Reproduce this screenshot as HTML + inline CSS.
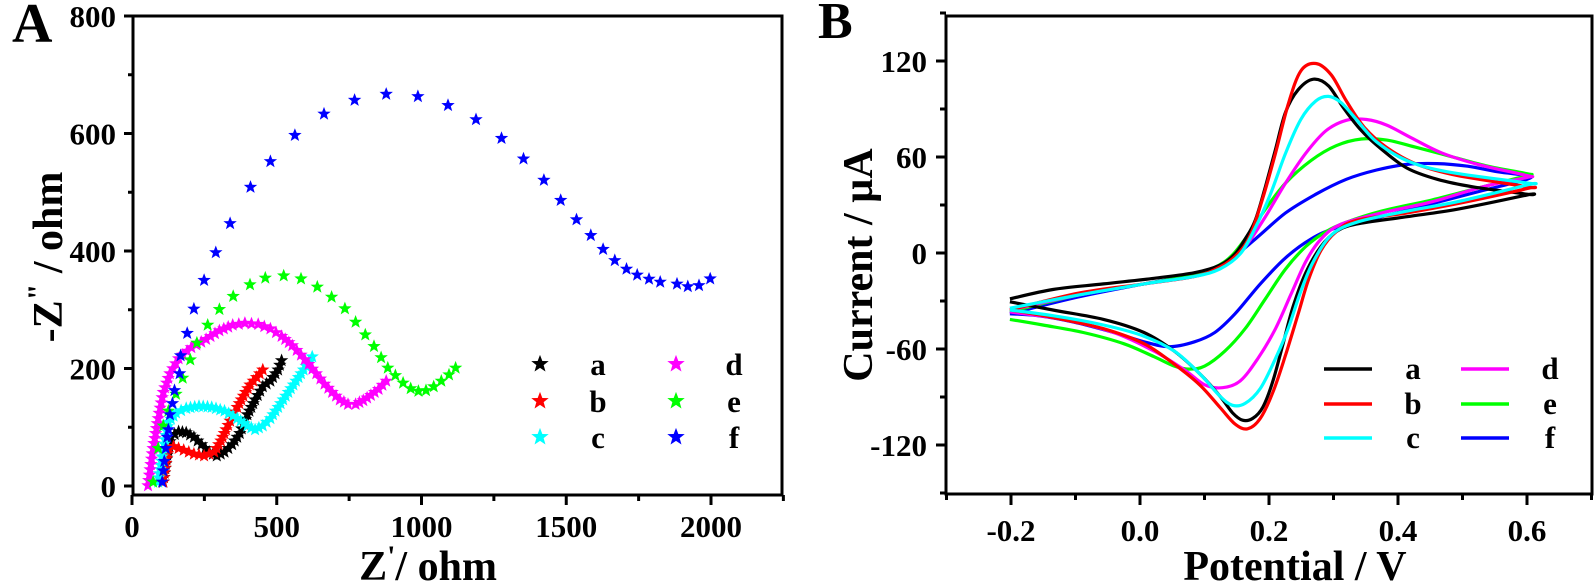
<!DOCTYPE html>
<html><head><meta charset="utf-8"><style>
html,body{margin:0;padding:0;background:#fff;}
svg{display:block;}
text{font-family:"Liberation Serif",serif;font-weight:bold;fill:#000;}
</style></head><body>
<svg id="s" width="1594" height="586" viewBox="0 0 1594 586" xmlns="http://www.w3.org/2000/svg">
<defs>
<polygon id="st" points="0,-7 1.8,-2.3 6.7,-2.2 2.8,0.9 4.2,5.8 0,3 -4.2,5.8 -2.8,0.9 -6.7,-2.2 -1.8,-2.3"/>
</defs>
<g id="A"></g>
<g id="B"></g>
<text x="12" y="42" font-size="56">A</text>
<rect x="133" y="16" width="649" height="479" fill="none" stroke="#000" stroke-width="3"/>
<text transform="translate(62,257) rotate(-90)" font-size="42" text-anchor="middle">-Z<tspan font-size="30" dy="-14">"</tspan><tspan dy="14"> / ohm</tspan></text>
<text x="428" y="580" font-size="42" text-anchor="middle">Z<tspan font-size="30" dy="-14">'</tspan><tspan dy="14">/ ohm</tspan></text>
<text x="818" y="38" font-size="52">B</text>
<rect x="946" y="16" width="646" height="478" fill="none" stroke="#000" stroke-width="3"/>
<text transform="translate(872,265) rotate(-90)" font-size="42" text-anchor="middle">Current / µA</text>
<text x="1295" y="580" font-size="42" text-anchor="middle">Potential / V</text>
</svg>
<script>
var NS="http://www.w3.org/2000/svg";
function el(p,t,a,txt){var e=document.createElementNS(NS,t);for(var k in a)e.setAttribute(k,a[k]);if(txt!==undefined)e.textContent=txt;p.appendChild(e);return e;}
var S=document.getElementById('s'),GA=document.getElementById('A'),GB=document.getElementById('B');
function ax(v){return 132+v*0.2895;} function ay(v){return 486-v*0.5875;}
for(var v=0;v<=800;v+=100){var y=ay(v);el(S,'line',{x1:133,x2:v%200==0?124:128,y1:y,y2:y,stroke:'#000','stroke-width':3});
 if(v%200==0)el(S,'text',{x:116,y:y+11,'font-size':31,'text-anchor':'end'},v);}
for(var v=0;v<=2250;v+=250){var x=ax(v);el(S,'line',{x1:x,x2:x,y1:495,y2:v%500==0?505:501,stroke:'#000','stroke-width':3});
 if(v%500==0)el(S,'text',{x:x,y:537,'font-size':31,'text-anchor':'middle'},v);}
var fy=2.677;
function conv(a,fx){return a.map(function(p){return [p[0]/fx,p[1]/fy];});}
function densify(pts,step){var o=[pts[0]];for(var i=1;i<pts.length;i++){var a=pts[i-1],b=pts[i],d=Math.hypot(b[0]-a[0],b[1]-a[1]),n=Math.max(1,Math.round(d/step));for(var j=1;j<=n;j++)o.push([a[0]+(b[0]-a[0])*j/n,a[1]+(b[1]-a[1])*j/n]);}return o;}
var A={
a:['#000',[[320,1290],[326,1230],[335,1170],[350,1155],[365,1158],[380,1170],[395,1190],[410,1210],[425,1220],[440,1210],[455,1190],[470,1160],[485,1110],[500,1070],[515,1035],[530,1020],[545,990],[552,965]],4.5],
b:['#f00',[[320,1290],[325,1240],[330,1200],[340,1195],[360,1205],[380,1215],[400,1220],[420,1210],[433,1180],[443,1150],[455,1115],[465,1090],[477,1060],[490,1030],[503,1010],[515,990]],4.5],
c:['#0ff',[[310,1290],[320,1200],[330,1130],[345,1105],[365,1093],[390,1087],[415,1090],[440,1100],[465,1120],[485,1140],[500,1150],[515,1140],[530,1120],[545,1090],[560,1060],[575,1030],[590,1000],[605,970],[612,955]],4.5],
d:['#f0f',[[290,1300],[300,1200],[310,1120],[320,1050],[333,1000],[350,960],[375,930],[404,908],[430,885],[456,870],[480,865],[506,868],[530,880],[552,900],[573,925],[590,950],[605,975],[620,1000],[636,1028],[651,1050],[666,1070],[682,1082],[697,1082],[712,1072],[727,1058],[742,1042],[757,1020]],5.5],
e:['#0f0',[[300,1290],[310,1200],[320,1140],[330,1100],[345,1055],[358,1012],[373,963],[386,918],[407,870],[430,828],[457,793],[490,762],[520,744],[556,738],[590,746],[622,768],[650,795],[676,826],[697,862],[716,896],[733,927],[747,957],[760,985],[775,1005],[790,1025],[805,1040],[820,1047],[835,1045],[850,1035],[865,1020],[880,1003],[893,985]],0],
f:['#00f',[[318,1290],[320,1260],[322,1235],[325,1200],[328,1170],[330,1150],[333,1110],[338,1080],[342,1045],[352,1000],[354,952],[367,892],[380,827],[400,750],[423,676],[451,598],[491,501],[530,432],[578,362],[635,305],[695,268],[757,252],[819,258],[878,282],[933,320],[983,370],[1026,425],[1066,482],[1099,536],[1130,588],[1158,630],[1182,667],[1205,697],[1228,720],[1249,736],[1272,747],[1294,755],[1327,760],[1348,767],[1370,764],[1392,746]],0]};
['a','b','c','d','e','f'].forEach(function(k){var s=A[k],p=conv(s[1],1.96);if(s[2])p=densify(p,s[2]);
 p.forEach(function(q){el(GA,'use',{href:'#st',x:q[0].toFixed(1),y:q[1].toFixed(1),fill:s[0]});});});
var LA=[['a','#000',540,364],['b','#f00',540,401],['c','#0ff',540,437],['d','#f0f',676,364],['e','#0f0',676,401],['f','#00f',676,437]];
LA.forEach(function(l){el(S,'use',{href:'#st',fill:l[1],transform:'translate('+l[2]+','+l[3]+') scale(1.3)'});
 el(S,'text',{x:l[2]+58,y:l[3]+11,'font-size':31,'text-anchor':'middle'},l[0]);});
function bx(v){return 1140+v*645;} function by(v){return 253-v*1.6;}
for(var v=-150;v<=150;v+=30){var y=by(v);el(S,'line',{x1:946,x2:v%60==0?936:940,y1:y,y2:y,stroke:'#000','stroke-width':3});
 if(v%60==0&&Math.abs(v)<150)el(S,'text',{x:927,y:y+11,'font-size':31,'text-anchor':'end'},v);}
for(var i=-3;i<=7;i++){var x=bx(i/10);el(S,'line',{x1:x,x2:x,y1:494,y2:(i%2==0)?505:500,stroke:'#000','stroke-width':3});
 if(i%2==0&&i>-3&&i<7)el(S,'text',{x:x,y:541,'font-size':31,'text-anchor':'middle'},(i/10).toFixed(1));}
var fx=1.977;
function cr(pts){var p=pts.map(function(q){return [800+q[0]/fx,q[1]/fy];});var d='M'+p[0][0].toFixed(1)+','+p[0][1].toFixed(1);
 for(var i=0;i<p.length-1;i++){var p0=p[Math.max(0,i-1)],p1=p[i],p2=p[i+1],p3=p[Math.min(p.length-1,i+2)];
 d+=' C'+(p1[0]+(p2[0]-p0[0])/6).toFixed(1)+','+(p1[1]+(p2[1]-p0[1])/6).toFixed(1)+' '+(p2[0]-(p3[0]-p1[0])/6).toFixed(1)+','+(p2[1]-(p3[1]-p1[1])/6).toFixed(1)+' '+p2[0].toFixed(1)+','+p2[1].toFixed(1);}
 return d;}
var B=[
['#00f',[[415,840],[550,795],[680,760],[780,735],[840,705],[900,640],[960,570],[1020,520],[1080,480],[1140,455],[1200,440],[1260,438],[1320,445],[1380,460],[1437,470],[1437,480],[1350,510],[1250,545],[1150,580],[1060,610],[1010,640],[960,690],[910,760],[860,840],[820,890],[780,915],[730,928],[680,915],[620,890],[540,862],[470,845],[415,840]]],
['#0f0',[[415,835],[550,790],[680,760],[780,735],[840,700],[880,640],[920,560],[960,490],[1010,430],[1060,390],[1110,372],[1160,375],[1220,395],[1290,420],[1360,445],[1437,465],[1437,470],[1350,500],[1250,535],[1150,565],[1080,595],[1040,620],[1000,660],[960,720],[920,800],[880,880],[840,940],[800,980],[770,988],[740,980],[700,955],[640,920],[560,890],[480,870],[415,855]]],
['#f0f',[[415,830],[550,790],[680,760],[780,740],[830,715],[880,660],[920,580],[960,490],[1000,410],[1040,350],[1080,322],[1120,320],[1160,335],[1210,370],[1270,410],[1340,440],[1437,470],[1437,475],[1350,500],[1250,540],[1150,570],[1070,600],[1030,640],[1000,700],[970,790],[940,880],[905,960],[870,1020],[835,1038],[800,1030],[760,990],[700,940],[620,890],[520,855],[415,835]]],
['#000',[[415,800],[500,775],[600,760],[700,745],[780,730],[830,710],[860,680],[880,640],[900,590],[920,500],[940,400],[960,300],[985,240],[1015,212],[1045,230],[1075,290],[1110,350],[1150,400],[1200,450],[1260,480],[1330,500],[1437,520],[1437,522],[1300,560],[1200,580],[1100,600],[1060,620],[1030,660],[1000,730],[975,820],[955,920],[935,1020],[915,1090],[895,1120],[875,1125],[855,1105],[830,1060],[790,1000],[740,940],[680,890],[600,855],[500,830],[415,808]]],
['#f00',[[415,830],[550,785],[680,760],[780,740],[830,715],[865,680],[890,630],[915,530],[940,410],[965,280],[990,190],[1020,170],[1050,200],[1080,270],[1115,340],[1160,395],[1220,440],[1300,470],[1437,500],[1437,505],[1300,545],[1200,570],[1100,590],[1060,620],[1030,670],[1005,750],[985,840],[960,950],[935,1050],[910,1120],[885,1148],[860,1135],[830,1090],[790,1030],[740,975],[680,920],[600,880],[500,850],[415,830]]],
['#0ff',[[415,825],[550,790],[680,760],[780,740],[830,720],[870,680],[900,610],[930,520],[960,410],[990,320],[1020,270],[1045,258],[1070,275],[1100,320],[1140,380],[1200,430],[1280,460],[1437,490],[1437,495],[1300,540],[1200,565],[1100,595],[1050,630],[1015,700],[990,780],[965,880],[940,960],[910,1040],[880,1080],[855,1085],[830,1060],[790,1000],[740,940],[680,900],[600,870],[500,845],[415,830]]]];
B.forEach(function(s){el(GB,'path',{d:cr(s[1]),fill:'none',stroke:s[0],'stroke-width':3.2,'stroke-linejoin':'round'});});
var LB=[['a','#000',1324,369],['b','#f00',1324,404],['c','#0ff',1324,438],['d','#f0f',1461,369],['e','#0f0',1461,404],['f','#00f',1461,438]];
LB.forEach(function(l){el(S,'line',{x1:l[2],x2:l[2]+48,y1:l[3],y2:l[3],stroke:l[1],'stroke-width':3.5});
 el(S,'text',{x:l[2]+89,y:l[3]+10,'font-size':31,'text-anchor':'middle'},l[0]);});
</script>
</body></html>
